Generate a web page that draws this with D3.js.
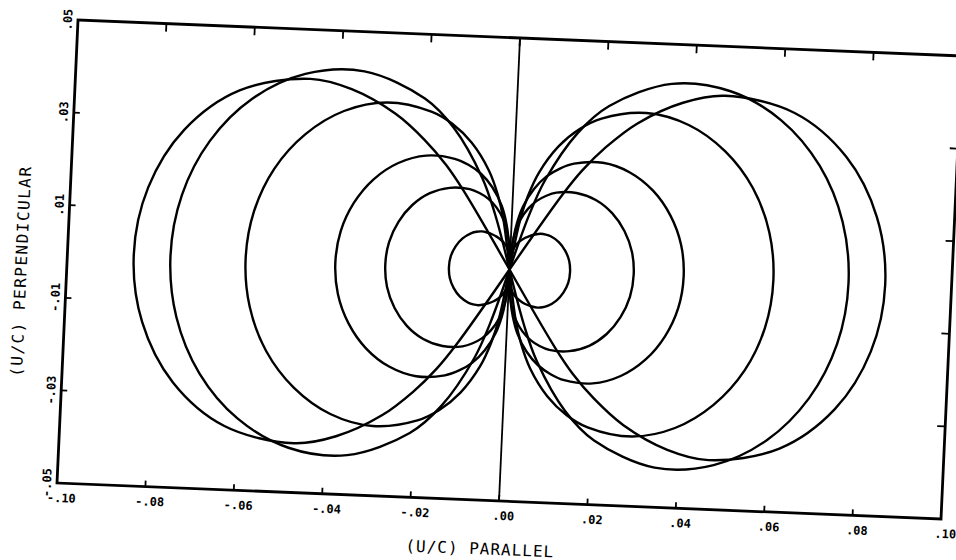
<!DOCTYPE html>
<html>
<head>
<meta charset="utf-8">
<script src="https://cdn.jsdelivr.net/npm/d3@7/dist/d3.min.js"></script>
<style>
  html, body { margin: 0; padding: 0; background: #fff; }
  svg { display: block; }
  .tick-label { font-family: 'DejaVu Sans Mono', monospace; font-size: 12px; font-weight: bold; fill: #000; }
  .axis-title { font-family: 'DejaVu Sans Mono', monospace; font-size: 16px; fill: #000; }
</style>
</head>
<body>
<div id="chart"></div>
<script>
// ---------------------------------------------------------------------------
// data

var xTicks = [-0.10, -0.08, -0.06, -0.04, -0.02, 0.00, 0.02, 0.04, 0.06, 0.08, 0.10];
var xTickLabels = ['-.10', '-.08', '-.06', '-.04', '-.02', '.00', '.02', '.04', '.06', '.08', '.10'];
var yTicks = [0.05, 0.03, 0.01, -0.01, -0.03, -0.05];
var yTickLabels = ['.05', '.03', '.01', '-.01', '-.03', '-.05'];

// each lobe: [angle from the parallel axis (deg), radius (U/C)], upper half
var lobeA = [[0, .0850], [10, .0837], [20, .0797], [30, .0725], [40, .0612], [45, .0530],
  [50, .0425], [53, .0340], [55, .0268], [56, .0200], [57, 0]];
var lobeB = [[0, .0767], [10, .0759], [20, .0734], [30, .0691], [40, .0628], [50, .0541],
  [60, .0417], [65, .0331], [70, .0208], [72, .0125], [73, 0]];
var lobeC = [[0, .0597], [10, .0592], [20, .0576], [30, .0548], [40, .0509], [50, .0456],
  [60, .0385], [65, .0341], [70, .0287], [75, .0219], [78, .0163], [80, .0111], [82, 0]];
var lobeD = [[0, .0394], [10, .0391], [20, .0381], [30, .0365], [40, .0342], [50, .0311],
  [60, .0270], [65, .0245], [70, .0217], [75, .0182], [80, .0139], [83, .0103], [85, .0071], [87, 0]];
var lobeE = [[0, .0281], [10, .0279], [20, .0272], [30, .0261], [40, .0245], [50, .0223],
  [60, .0196], [65, .0179], [70, .0160], [75, .0137], [80, .0109], [85, .0069], [87, .0044], [88.5, 0]];
var lobeF = [[0, .0137], [10, .0136], [20, .0132], [30, .0126], [40, .0117], [45, .0111],
  [50, .0104], [55, .0095], [60, .0086], [65, .0077], [70, .0068], [75, .0059], [80, .0049],
  [85, .0036], [88, .0020], [90, 0]];

var lobes = [lobeA, lobeB, lobeC, lobeD, lobeE, lobeF];

// ---------------------------------------------------------------------------

var width = 956, height = 560;
// the scanned plot sits a little skewed on the page
var frame = { left: 78, top: 20, w: 884, h: 463, dxRight: 36, dxBottom: -21 };

var x = d3.scaleLinear().domain([-0.1, 0.1]).range([0, frame.w]);
var y = d3.scaleLinear().domain([-0.05, 0.05]).range([frame.h, 0]);

var svg = d3.select('#chart')
  .append('svg')
  .attr('width', width)
  .attr('height', height);

var plot = svg.append('g')
  .attr('class', 'plot')
  .attr('transform', 'matrix(1,' + (frame.dxRight / frame.w) + ',' + (frame.dxBottom / frame.h) +
    ',1,' + frame.left + ',' + frame.top + ')');

// lobes: one open path per side, from the origin round the lobe and back
var line = d3.line()
  .x(function(p) { return x(p[0]); })
  .y(function(p) { return y(p[1]); })
  .curve(d3.curveCatmullRom.alpha(0.5));

function lobePoints(lobe, side) {
  var pts = [];
  var i, a, r;
  for (i = lobe.length - 1; i >= 0; i--) {
    a = lobe[i][0] * Math.PI / 180; r = lobe[i][1];
    pts.push([side * r * Math.cos(a), -r * Math.sin(a)]);
  }
  for (i = 1; i < lobe.length; i++) {
    a = lobe[i][0] * Math.PI / 180; r = lobe[i][1];
    pts.push([side * r * Math.cos(a), r * Math.sin(a)]);
  }
  return pts;
}

var curves = plot.append('g').attr('class', 'lobes');
[-1, 1].forEach(function(side) {
  curves.selectAll('path.side' + (side + 1))
    .data(lobes)
    .enter().append('path')
    .attr('class', 'side' + (side + 1))
    .attr('d', function(l) { return line(lobePoints(l, side)); })
    .attr('fill', 'none')
    .attr('stroke', '#000')
    .attr('stroke-width', 2.4)
    .attr('stroke-linejoin', 'round');
});

// zero line
plot.append('line')
  .attr('x1', x(0)).attr('x2', x(0))
  .attr('y1', y(0.05)).attr('y2', y(-0.05))
  .attr('stroke', '#000')
  .attr('stroke-width', 1.8);

// ticks
var innerX = xTicks.slice(1, -1);
var innerY = yTicks.slice(1, -1);
plot.append('g').selectAll('line')
  .data(innerX)
  .enter().append('line')
  .attr('x1', function(d) { return x(d); }).attr('x2', function(d) { return x(d); })
  .attr('y1', 0).attr('y2', 8)
  .attr('stroke', '#000').attr('stroke-width', 1.8);
plot.append('g').selectAll('line')
  .data(innerX)
  .enter().append('line')
  .attr('x1', function(d) { return x(d); }).attr('x2', function(d) { return x(d); })
  .attr('y1', frame.h).attr('y2', frame.h - 6)
  .attr('stroke', '#000').attr('stroke-width', 1.8);
plot.append('g').selectAll('line')
  .data(innerY)
  .enter().append('line')
  .attr('x1', 0).attr('x2', 6)
  .attr('y1', function(d) { return y(d); }).attr('y2', function(d) { return y(d); })
  .attr('stroke', '#000').attr('stroke-width', 1.8);
plot.append('g').selectAll('line')
  .data(innerY)
  .enter().append('line')
  .attr('x1', frame.w).attr('x2', frame.w - 8)
  .attr('y1', function(d) { return y(d); }).attr('y2', function(d) { return y(d); })
  .attr('stroke', '#000').attr('stroke-width', 1.8);

// frame
plot.append('rect')
  .attr('x', 0).attr('y', 0)
  .attr('width', frame.w).attr('height', frame.h)
  .attr('fill', 'none')
  .attr('stroke', '#000')
  .attr('stroke-width', 2.8);

// tick labels
plot.append('g').selectAll('text')
  .data(xTicks)
  .enter().append('text')
  .attr('class', 'tick-label')
  .attr('x', function(d) { return x(d) + 5; })
  .attr('y', frame.h + 19)
  .attr('text-anchor', 'middle')
  .text(function(d, i) { return xTickLabels[i]; });
plot.append('g').selectAll('text')
  .data(yTicks)
  .enter().append('text')
  .attr('class', 'tick-label')
  .attr('text-anchor', 'middle')
  .attr('transform', function(d) { return 'translate(-6,' + y(d) + ') rotate(-90)'; })
  .text(function(d, i) { return yTickLabels[i]; });

// axis titles
plot.append('text')
  .attr('class', 'axis-title')
  .attr('x', 425).attr('y', frame.h + 54)
  .attr('text-anchor', 'middle')
  .attr('letter-spacing', 1)
  .text('(U/C) PARALLEL');
plot.append('text')
  .attr('class', 'axis-title')
  .attr('text-anchor', 'middle')
  .attr('letter-spacing', 1.5)
  .attr('transform', 'translate(-40,253) rotate(-90)')
  .text('(U/C) PERPENDICULAR');
</script>
</body>
</html>
